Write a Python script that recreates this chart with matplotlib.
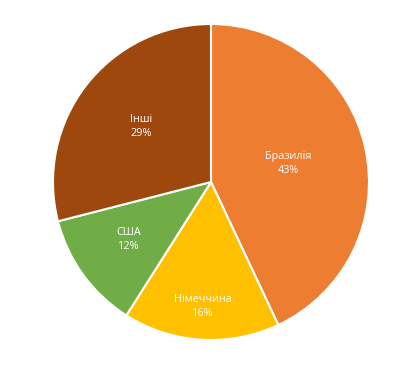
import numpy as np
import matplotlib
matplotlib.use("Agg")
import matplotlib.pyplot as plt

# share of each country
countries = ["Бразилія", "Німеччина", "США", "Інші"]
shares = [43, 16, 12, 29]
colors = ["#ED7D31", "#FFC000", "#70AD47", "#9E480E"]
label_dist = [0.50, 0.80, 0.64, 0.56]

fig = plt.figure(figsize=(4.04, 3.70), dpi=100)
ax = fig.add_axes([(211 - 158) / 404, (370 - 340) / 370, 316 / 404, 316 / 370])

wedges, _ = ax.pie(shares, colors=colors, startangle=90, counterclock=False,
                   radius=1, wedgeprops=dict(edgecolor="white", linewidth=1.5))

for w, name, val, d in zip(wedges, countries, shares, label_dist):
    ang = np.deg2rad((w.theta1 + w.theta2) / 2)
    ax.text(d * np.cos(ang), d * np.sin(ang) + 0.01, f"{name}\n{val}%",
            ha="center", va="center", color="white", fontsize=7.8,
            family="Open Sans", linespacing=1.35)

ax.set_xlim(-1, 1)
ax.set_ylim(-1, 1)
ax.set_aspect("auto")
ax.axis("off")

fig.savefig("out.png", dpi=100, facecolor="white")
